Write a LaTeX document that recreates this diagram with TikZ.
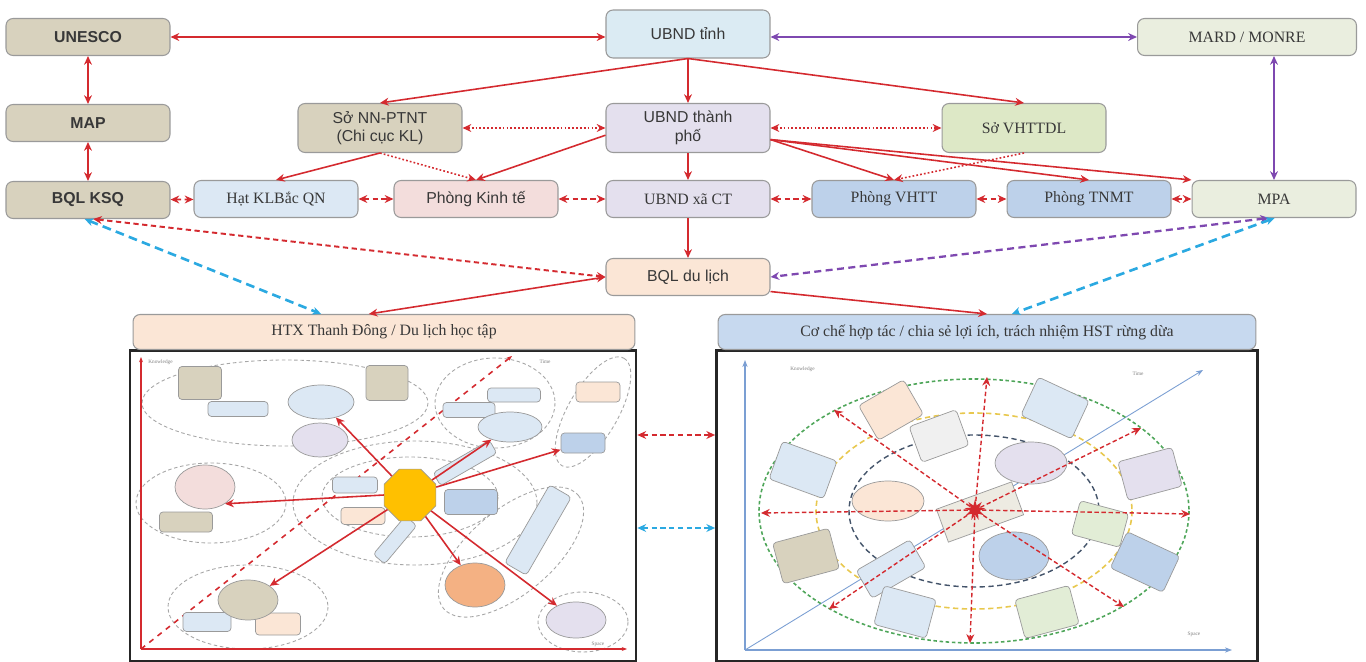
\documentclass[tikz,border=0pt]{standalone}
\usepackage{fontspec}
\setmainfont{Liberation Serif}
\setsansfont{Liberation Sans}
\usetikzlibrary{arrows.meta,shapes.geometric}

\definecolor{linered}{HTML}{D42A2F}
\definecolor{linepurple}{HTML}{7E48B0}
\definecolor{linecyan}{HTML}{2BA9E1}
\definecolor{axisblue}{HTML}{7B9FD3}
\definecolor{ringgreen}{HTML}{4FA65A}
\definecolor{ringyellow}{HTML}{E8C84E}
\definecolor{ringnavy}{HTML}{44546A}
\definecolor{boxedge}{HTML}{9A9A9A}
\definecolor{txtgray}{HTML}{383838}
\definecolor{filltan}{HTML}{D8D2BE}
\definecolor{fillsky}{HTML}{DBEBF3}
\definecolor{filllav}{HTML}{E4E0EE}
\definecolor{fillsage}{HTML}{DDE8C6}
\definecolor{fillmint}{HTML}{EAEEDF}
\definecolor{fillice}{HTML}{DCE8F4}
\definecolor{fillrose}{HTML}{F3DDDC}
\definecolor{fillblue}{HTML}{BDD1EA}
\definecolor{fillpeach}{HTML}{FBE6D6}
\definecolor{fillsteel}{HTML}{C7D9EF}
\definecolor{fillorange}{HTML}{F4B183}
\definecolor{fillgold}{HTML}{FFC000}
\definecolor{fillgrey}{HTML}{F0F0F0}
\definecolor{fillleaf}{HTML}{E2EDD6}

\tikzset{
  orgbox/.style={draw=boxedge, rounded corners=4pt, align=center, text=txtgray,
    inner sep=2pt, minimum width=3.28cm, minimum height=0.74cm, line width=0.6pt},
  sfbox/.style={orgbox, font=\sffamily\fontsize{9}{10.5}\selectfont},
  rmbox/.style={orgbox, font=\rmfamily\fontsize{9}{10.5}\selectfont},
  redline/.style={draw=linered, line width=0.9pt},
  reddot/.style={redline, dash pattern=on 1pt off 1.2pt},
  reddash/.style={redline, line width=1.1pt, dash pattern=on 3pt off 2pt},
  purpleline/.style={draw=linepurple, line width=0.9pt},
  purpledash/.style={draw=linepurple, line width=1.3pt, dash pattern=on 4pt off 2.5pt},
  cyandash/.style={draw=linecyan, line width=1.5pt, dash pattern=on 5pt off 3pt},
  panel/.style={draw=black!85, line width=1.6pt, inner sep=0pt, fill=white},
  pbox/.style 2 args={draw=boxedge, rounded corners=2pt, inner sep=0pt, line width=0.4pt,
    minimum width=#1*0.02cm, minimum height=#2*0.02cm},
  pell/.style 2 args={draw=boxedge, ellipse, inner sep=0pt, line width=0.4pt,
    minimum width=#1*0.04cm, minimum height=#2*0.04cm},
  ring/.style={draw=gray!70, line width=0.5pt, dash pattern=on 2pt off 1.5pt},
  axred/.style={draw=linered, line width=0.6pt},
  axblue/.style={draw=axisblue, line width=0.8pt},
  raydash/.style={draw=linered, line width=0.8pt, dash pattern=on 2.5pt off 1.5pt},
  tinylbl/.style={font=\rmfamily\fontsize{3}{3}\selectfont, text=gray, inner sep=0pt},
}

\begin{document}
\begin{tikzpicture}[x=0.02cm, y=-0.02cm, >={Stealth[length=5pt,width=4.5pt]}]
\useasboundingbox (0,0) rectangle (1366,662);

% top of the chart
\node[sfbox, fill=filltan, font=\sffamily\bfseries\fontsize{9}{10.5}\selectfont] (unesco) at (88,37) {UNESCO};
\node[sfbox, fill=fillsky, minimum height=0.96cm] (tinh) at (688,34) {UBND tỉnh};
\node[rmbox, fill=fillmint, minimum width=4.38cm] (mard) at (1247,37) {MARD / MONRE};

\node[sfbox, fill=filltan, font=\sffamily\bfseries\fontsize{9}{10.5}\selectfont] (map) at (88,123) {MAP};
\node[sfbox, fill=filltan, minimum height=0.98cm] (sonn) at (380,128) {Sở NN-PTNT\\(Chi cục KL)};
\node[sfbox, fill=filllav, minimum height=0.98cm] (tp) at (688,128) {UBND thành\\phố};
\node[rmbox, fill=fillsage, minimum height=0.98cm] (vhttdl) at (1024,128) {Sở VHTTDL};

\node[sfbox, fill=filltan, font=\sffamily\bfseries\fontsize{9}{10.5}\selectfont] (ksq) at (88,200) {BQL KSQ};
\node[rmbox, fill=fillice] (hat) at (276,199) {Hạt KLBắc QN};
\node[sfbox, fill=fillrose] (pkt) at (476,199) {Phòng Kinh tế};
\node[rmbox, fill=filllav] (xa) at (688,199) {UBND xã CT};
\node[rmbox, fill=fillblue] (vhtt) at (894,199) {Phòng VHTT};
\node[rmbox, fill=fillblue] (tnmt) at (1089,199) {Phòng TNMT};
\node[rmbox, fill=fillmint] (mpa) at (1274,199) {MPA};

\node[sfbox, fill=fillpeach] (bql) at (688,277) {BQL du lịch};

% links between offices
\draw[redline,<->] (unesco.east) -- (unesco.east -| tinh.west);
\draw[purpleline,<->] (tinh.east |- mard.west) -- (mard.west);
\draw[redline,<->] (unesco) -- (map);
\draw[redline,<->] (map) -- (ksq);
\draw[purpleline,<->] (mard.south -| mpa.north) -- (mpa.north);

\draw[redline,->] (tinh.south) -- (sonn.north);
\draw[redline,->] (tinh) -- (tp);
\draw[redline,->] (tinh.south) -- (vhttdl.north);
\draw[reddot,<->] (sonn) -- (tp);
\draw[reddot,<->] (tp) -- (vhttdl);

\draw[redline,->] (sonn.south) -- (hat.north);
\draw[reddot,->] (sonn.south) -- (pkt.north);
\draw[redline,->] (tp.185) -- (pkt.north);
\draw[redline,->] (tp) -- (xa);
\draw[redline,->] (tp.-8) -- (vhtt.north);
\draw[redline,->] (tp.-8) -- (tnmt.north);
\draw[redline,->] (tp.-8) -- (mpa.north west);
\draw[reddot,->] (vhttdl.south) -- (vhtt.north);

\foreach \a/\b in {ksq/hat, hat/pkt, pkt/xa, xa/vhtt, vhtt/tnmt, tnmt/mpa}
  \draw[reddash,<->] (\a) -- (\b);

\draw[redline,->] (xa) -- (bql);

% the two studies
\node[panel, minimum width=10.12cm, minimum height=6.22cm] (lpanel) at (383,506) {};
\node[panel, minimum width=10.82cm, minimum height=6.22cm] (rpanel) at (987,506) {};
\node[rmbox, fill=fillpeach, minimum width=10.04cm, minimum height=0.7cm] (htx) at (384,332) {HTX Thanh Đông / Du lịch học tập};
\node[rmbox, fill=fillsteel, minimum width=10.76cm, minimum height=0.7cm] (coop) at (987,332) {Cơ chế hợp tác / chia sẻ lợi ích, trách nhiệm HST rừng dừa};

\draw[reddash,<->] (ksq.-75) -- (bql.west);
\draw[cyandash,<->] (ksq.-100) -- (htx.164);
\draw[redline,<->] (bql.west) -- (htx.130);
\draw[redline,->] (bql.-10) -- (coop.north);
\draw[purpledash,<->] (mpa.-105) -- (bql.east);
\draw[cyandash,<->] (mpa.-88) -- (coop.36);

\coordinate (gapred) at (676,435);
\coordinate (gapcyan) at (676,528);
\draw[reddash,line width=1.4pt,<->] (lpanel.east |- gapred) -- (rpanel.west |- gapred);
\draw[cyandash,dash pattern=on 3pt off 2pt,<->] (lpanel.east |- gapcyan) -- (rpanel.west |- gapcyan);

% left study: HTX map
\draw[ring] (285,403) ellipse [x radius=143, y radius=43];
\draw[ring] (495,403) ellipse [x radius=60, y radius=45];
\draw[ring, rotate around={60:(593,412)}] (593,412) ellipse [x radius=62, y radius=25];
\draw[ring] (415,503) ellipse [x radius=122, y radius=62];
\draw[ring] (410,497) ellipse [x radius=88, y radius=40];
\draw[ring] (211,503) ellipse [x radius=75, y radius=40];
\draw[ring] (248,607) ellipse [x radius=80, y radius=42];
\draw[ring, rotate around={40:(511,552)}] (511,552) ellipse [x radius=88, y radius=42];
\draw[ring] (583,622) ellipse [x radius=45, y radius=30];

\coordinate (lo) at (141,649);
\coordinate (ly) at (141,357);
\coordinate (lx) at (627,649);
\coordinate (ld) at (512,356);
\draw[axred,-{Stealth[length=3pt]}] (lo) -- (ly);
\draw[axred,-{Stealth[length=3pt]}] (lo) -- (lx);
\draw[axred,line width=0.9pt,dash pattern=on 3pt off 3pt,-{Stealth[length=3pt]}] (lo) -- (ld);
\node[tinylbl, anchor=west] (lknow) at (148,362) {Knowledge};
\node[tinylbl] (ltime) at (545,362) {Time};
\node[tinylbl] (lspace) at (598,644) {Space};

\node[pbox={43}{33}, fill=filltan] (lt1) at (200,383) {};
\node[pbox={60}{15}, fill=fillice] (lt2) at (238,409) {};
\node[pbox={42}{35}, fill=filltan] (lt3) at (387,383) {};
\node[pbox={53}{14}, fill=fillice] (lt4) at (514,395) {};
\node[pbox={52}{15}, fill=fillice] (lt5) at (469,410) {};
\node[pbox={44}{20}, fill=fillpeach] (lt6) at (598,392) {};
\node[pbox={44}{20}, fill=fillblue] (lt7) at (583,443) {};
\node[pbox={53}{20}, fill=filltan] (lt8) at (186,522) {};
\node[pbox={45}{16}, fill=fillice] (lt9) at (355,485) {};
\node[pbox={44}{17}, fill=fillpeach] (lt10) at (363,516) {};
\node[pbox={65}{15}, fill=fillice, rotate=30] (lt11) at (465,463) {};
\node[pbox={53}{25}, fill=fillblue] (lt12) at (471,502) {};
\node[pbox={50}{15}, fill=fillice, rotate=50] (lt13) at (395,540) {};
\node[pbox={90}{25}, fill=fillice, rotate=60] (lt14) at (538,530) {};
\node[pbox={48}{19}, fill=fillice] (lt15) at (207,622) {};
\node[pbox={45}{22}, fill=fillpeach] (lt16) at (278,624) {};

\node[pell={33}{17}, fill=fillice] (le1) at (321,402) {};
\node[pell={28}{17}, fill=filllav] (le2) at (320,440) {};
\node[pell={32}{15}, fill=fillice] (le3) at (510,427) {};
\node[pell={30}{22}, fill=fillrose] (le4) at (205,487) {};
\node[pell={30}{22}, fill=fillorange] (le5) at (475,585) {};
\node[pell={30}{20}, fill=filltan] (le6) at (248,600) {};
\node[pell={30}{18}, fill=filllav] (le7) at (576,620) {};

\node[regular polygon, regular polygon sides=8, draw=boxedge, fill=fillgold,
  inner sep=0pt, minimum size=1.12cm] (hub) at (410,495) {};

\foreach \t in {le1, le3, lt7, le6, le5, le7}
  \draw[redline,->] (hub) -- (\t);
\draw[redline,->] (hub.west) -- (le4.-40);

% right study: rings round the forest
\coordinate (ro) at (745,650);
\coordinate (ry) at (745,360);
\coordinate (rx) at (1232,650);
\coordinate (rd) at (1203,370);
\draw[axblue,-{Stealth[length=4pt]}] (ro) -- (ry);
\draw[axblue,-{Stealth[length=4pt]}] (ro) -- (rx);
\draw[axblue,line width=0.5pt,-{Stealth[length=4pt]}] (ro) -- (rd);
\node[tinylbl, anchor=west] (rknow) at (790,369) {Knowledge};
\node[tinylbl] (rtime) at (1138,374) {Time};
\node[tinylbl] (rspace) at (1194,634) {Space};

\draw[draw=ringgreen, line width=0.9pt, dash pattern=on 2pt off 1.5pt] (974,511) ellipse [x radius=215, y radius=132];
\draw[draw=ringyellow, line width=0.9pt, dash pattern=on 3pt off 2pt] (974,511) ellipse [x radius=158, y radius=98];
\draw[draw=ringnavy, line width=0.8pt, dash pattern=on 3pt off 2pt] (974,511) ellipse [x radius=125, y radius=76];

\node[pbox={52}{40}, fill=fillpeach, rotate=30] (rb1) at (891,410) {};
\node[pbox={50}{38}, fill=fillgrey, rotate=20] (rb2) at (939,436) {};
\node[pbox={56}{42}, fill=fillice, rotate=-25] (rb3) at (1055,408) {};
\node[pbox={58}{40}, fill=fillice, rotate=-20] (rb4) at (803,470) {};
\node[pbox={56}{40}, fill=filllav, rotate=15] (rb5) at (1150,474) {};
\node[pbox={50}{35}, fill=fillleaf, rotate=-15] (rb6) at (1100,524) {};
\node[pbox={58}{42}, fill=filltan, rotate=15] (rb7) at (806,556) {};
\node[pbox={58}{40}, fill=fillblue, rotate=-25] (rb8) at (1145,562) {};
\node[pbox={62}{32}, fill=fillice, rotate=30] (rb9) at (891,569) {};
\node[pbox={54}{40}, fill=fillice, rotate=-15] (rb10) at (905,612) {};
\node[pbox={56}{40}, fill=fillleaf, rotate=15] (rb11) at (1047,612) {};

\node[pell={36}{21}, fill=filllav] (re1) at (1031,463) {};
\node[pell={36}{20}, fill=fillpeach] (re2) at (888,501) {};
\node[pell={35}{24}, fill=fillblue] (re3) at (1014,556) {};

\node[draw=boxedge, fill=filltan!45, inner sep=0pt, rotate=20,
  minimum width=80*0.02cm, minimum height=35*0.02cm] (plate) at (980,512) {};
\node[star, star points=9, star point ratio=2.2, fill=linered, inner sep=0pt,
  minimum size=0.42cm] (core) at (975,510) {};

\foreach \x/\y [count=\i] in {987/377, 970/643, 761/513, 1190/514, 834/410, 1124/607, 1141/428, 829/609}
  \coordinate (ray\i) at (\x,\y);
\foreach \i in {1,...,8}
  \draw[raydash,->] (core) -- (ray\i);
\end{tikzpicture}
\end{document}
